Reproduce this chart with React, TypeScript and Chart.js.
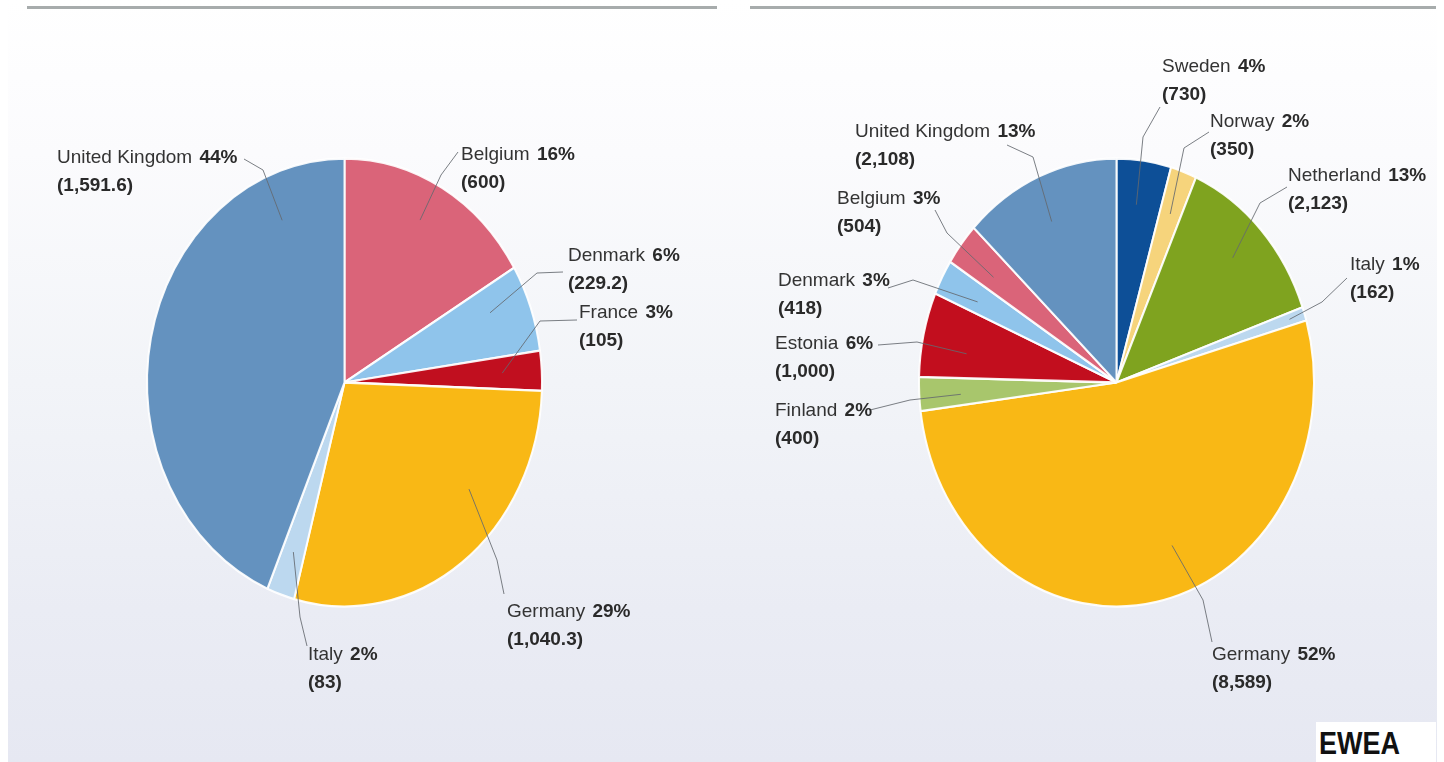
import React, { useEffect, useRef } from 'react';
import { Chart, registerables } from 'chart.js';

Chart.register(...registerables);

// ---------- Data: left pie ----------
const LEFT_COUNTRIES = ['Belgium', 'Denmark', 'France', 'Germany', 'Italy', 'United Kingdom'];
const LEFT_VALUES = [600, 229.2, 105, 1040.3, 83, 1591.6];
const LEFT_PCT = ['16%', '6%', '3%', '29%', '2%', '44%'];
const LEFT_VALUE_TEXT = ['(600)', '(229.2)', '(105)', '(1,040.3)', '(83)', '(1,591.6)'];
const LEFT_COLORS = ['#da6479', '#8fc4eb', '#c10f1f', '#f9b815', '#bcd8ef', '#6492bf'];

// ---------- Data: right pie ----------
const RIGHT_COUNTRIES = ['Sweden', 'Norway', 'Netherland', 'Italy', 'Germany', 'Finland', 'Estonia', 'Denmark', 'Belgium', 'United Kingdom'];
const RIGHT_VALUES = [730, 350, 2123, 162, 8589, 400, 1000, 418, 504, 2108];
const RIGHT_PCT = ['4%', '2%', '13%', '1%', '52%', '2%', '6%', '3%', '3%', '13%'];
const RIGHT_VALUE_TEXT = ['(730)', '(350)', '(2,123)', '(162)', '(8,589)', '(400)', '(1,000)', '(418)', '(504)', '(2,108)'];
const RIGHT_COLORS = ['#0d4f97', '#f6d47c', '#7fa31f', '#bcd8ef', '#f9b815', '#a8c66c', '#c20e1e', '#8fc4eb', '#da6479', '#6492bf'];

// ---------- Layout (label positions and leader lines, page coordinates) ----------
type Leader = { label: [number, number]; p0: [number, number]; p1: [number, number]; t: number; r: number };

const LEFT_LAYOUT: Leader[] = [
  { label: [461, 155], p0: [458, 152], p1: [441, 175], t: 0.47, r: 0.82 },
  { label: [568, 256], p0: [563, 272], p1: [537, 273], t: 0.35, r: 0.8 },
  { label: [579, 313], p0: [577, 320], p1: [540, 321], t: 0.5, r: 0.8 },
  { label: [507, 612], p0: [504, 594], p1: [497, 560], t: 0.34, r: 0.79 },
  { label: [308, 655], p0: [307, 646], p1: [300, 617], t: 0.5, r: 0.8 },
  { label: [57, 158], p0: [244, 159], p1: [263, 170], t: 0.85, r: 0.79 },
];

const RIGHT_LAYOUT: Leader[] = [
  { label: [1162, 67], p0: [1160, 107], p1: [1143, 137], t: 0.45, r: 0.8 },
  { label: [1210, 122], p0: [1209, 132], p1: [1184, 148], t: 0.5, r: 0.8 },
  { label: [1288, 176], p0: [1287, 187], p1: [1260, 203], t: 0.49, r: 0.81 },
  { label: [1350, 265], p0: [1347, 278], p1: [1322, 302], t: 0.5, r: 0.92 },
  { label: [1212, 655], p0: [1212, 642], p1: [1203, 600], t: 0.45, r: 0.78 },
  { label: [775, 411], p0: [870, 410], p1: [910, 400], t: 0.4, r: 0.79 },
  { label: [775, 344], p0: [878, 345], p1: [917, 342], t: 0.37, r: 0.77 },
  { label: [778, 281], p0: [888, 288], p1: [913, 280], t: 0.4, r: 0.79 },
  { label: [837, 199], p0: [935, 210], p1: [947, 233], t: 0.4, r: 0.78 },
  { label: [855, 132], p0: [1007, 145], p1: [1033, 157], t: 0.47, r: 0.79 },
];

const FONT = '"Liberation Sans", Arial, sans-serif';
const CANVAS_W = 722;
const CANVAS_H = 762;
const RADIUS_X = 197.5;
const RADIUS_Y = 224;
const CENTER_Y = 382;

type PieSpec = {
  offsetX: number;
  centerX: number; // page coords
  countries: string[];
  values: number[];
  pct: string[];
  valueText: string[];
  colors: string[];
  layout: Leader[];
};

const LEFT_SPEC: PieSpec = {
  offsetX: 0, centerX: 344.5,
  countries: LEFT_COUNTRIES, values: LEFT_VALUES, pct: LEFT_PCT, valueText: LEFT_VALUE_TEXT,
  colors: LEFT_COLORS, layout: LEFT_LAYOUT,
};
const RIGHT_SPEC: PieSpec = {
  offsetX: 722, centerX: 1116.5,
  countries: RIGHT_COUNTRIES, values: RIGHT_VALUES, pct: RIGHT_PCT, valueText: RIGHT_VALUE_TEXT,
  colors: RIGHT_COLORS, layout: RIGHT_LAYOUT,
};

function makePlugin(spec: PieSpec) {
  return {
    id: 'stretchAndLabels',
    beforeDatasetsDraw(chart: any) {
      const arc = chart.getDatasetMeta(0).data[0];
      const ctx = chart.ctx;
      const sy = RADIUS_Y / arc.outerRadius;
      ctx.save();
      ctx.translate(0, arc.y);
      ctx.scale(1, sy);
      ctx.translate(0, -arc.y);
    },
    afterDatasetsDraw(chart: any) {
      const ctx = chart.ctx as CanvasRenderingContext2D;
      ctx.restore();
      const meta = chart.getDatasetMeta(0);
      const first = meta.data[0];
      const sy = RADIUS_Y / first.outerRadius;
      meta.data.forEach((el: any, i: number) => {
        const lay = spec.layout[i];
        const a = el.startAngle + lay.t * (el.endAngle - el.startAngle);
        const ix = el.x + lay.r * el.outerRadius * Math.cos(a);
        const iy = el.y + lay.r * el.outerRadius * sy * Math.sin(a);
        ctx.save();
        ctx.strokeStyle = 'rgba(100,104,110,0.85)';
        ctx.lineWidth = 1;
        ctx.beginPath();
        ctx.moveTo(lay.p0[0] - spec.offsetX, lay.p0[1]);
        ctx.lineTo(lay.p1[0] - spec.offsetX, lay.p1[1]);
        ctx.lineTo(ix, iy);
        ctx.stroke();
        ctx.restore();
      });
      meta.data.forEach((_el: any, i: number) => {
        const lay = spec.layout[i];
        const x = lay.label[0] - spec.offsetX;
        const y = lay.label[1];
        ctx.save();
        ctx.textBaseline = 'middle';
        ctx.textAlign = 'left';
        ctx.font = `19px ${FONT}`;
        ctx.fillStyle = '#333333';
        const name = spec.countries[i] + ' ';
        ctx.fillText(name, x, y);
        const w = ctx.measureText(name).width;
        ctx.font = `bold 19px ${FONT}`;
        ctx.fillStyle = '#2a2a2a';
        ctx.fillText(spec.pct[i], x + w + 2, y);
        ctx.fillText(spec.valueText[i], x, y + 28);
        ctx.restore();
      });
    },
  };
}

function PieCanvas({ spec }: { spec: PieSpec }) {
  const ref = useRef<HTMLCanvasElement | null>(null);
  useEffect(() => {
    if (!ref.current) return;
    const cx = spec.centerX - spec.offsetX;
    const size = 2 * RADIUS_X + 2;
    const left = Math.round(cx - size / 2);
    const top = Math.round(CENTER_Y - size / 2);
    const chart = new Chart(ref.current, {
      type: 'pie',
      data: {
        labels: spec.countries,
        datasets: [
          {
            data: spec.values,
            backgroundColor: spec.colors,
            borderColor: 'rgba(255,255,255,0.92)',
            borderWidth: 2,
            hoverOffset: 0,
            offset: 0,
            clip: false as any,
          },
        ],
      },
      options: {
        responsive: false,
        maintainAspectRatio: false,
        animation: false,
        events: [],
        layout: {
          padding: {
            left,
            top,
            right: CANVAS_W - left - size,
            bottom: CANVAS_H - top - size,
          },
        },
        plugins: {
          legend: { display: false },
          tooltip: { enabled: false },
        },
      },
      plugins: [makePlugin(spec)],
    });
    return () => chart.destroy();
  }, [spec]);
  return (
    <canvas
      ref={ref}
      width={CANVAS_W}
      height={CANVAS_H}
      style={{ position: 'absolute', left: spec.offsetX, top: 0, width: CANVAS_W, height: CANVAS_H }}
    />
  );
}

export default function App() {
  return (
    <div
      style={{
        position: 'absolute',
        left: 0,
        top: 0,
        width: 1444,
        height: 762,
        overflow: 'hidden',
        background: '#ffffff',
      }}
    >
      <div
        style={{
          position: 'absolute',
          left: 8,
          top: 0,
          width: 1429,
          height: 762,
          background: 'linear-gradient(to bottom, #ffffff 0%, #fbfbfd 20%, #f2f4f8 50%, #eaecf4 80%, #e6e8f2 100%)',
        }}
      />
      <div style={{ position: 'absolute', left: 27, top: 6, width: 690, height: 3, background: '#a7acac' }} />
      <div style={{ position: 'absolute', left: 750, top: 6, width: 686, height: 3, background: '#a7acac' }} />
      <PieCanvas spec={LEFT_SPEC} />
      <PieCanvas spec={RIGHT_SPEC} />
      <div
        style={{
          position: 'absolute',
          left: 1316,
          top: 722,
          width: 120,
          height: 40,
          background: '#ffffff',
        }}
      />
      <div
        style={{
          position: 'absolute',
          left: 1319,
          top: 725,
          fontFamily: FONT,
          fontWeight: 'bold',
          fontSize: 27,
          lineHeight: '32px',
          color: '#111111',
          transform: 'scaleY(1.18)',
          transformOrigin: 'left top',
        }}
      >
        EWEA
      </div>
    </div>
  );
}
